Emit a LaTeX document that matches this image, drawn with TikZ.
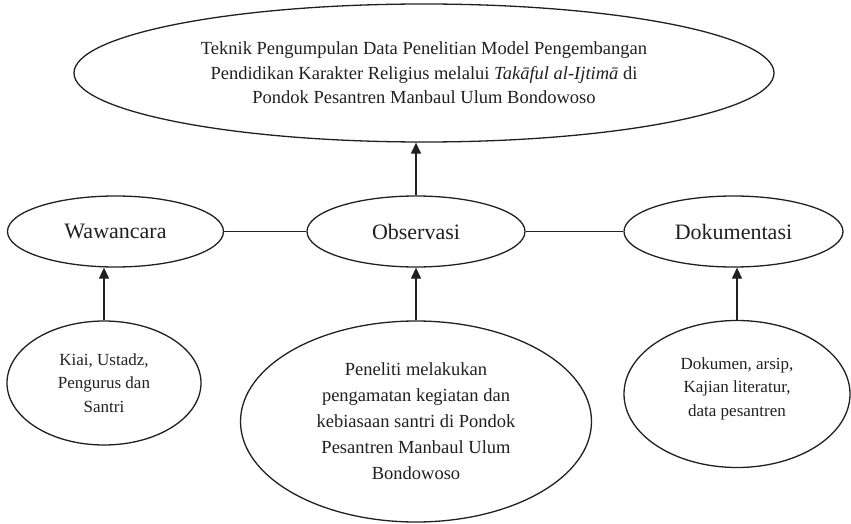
\documentclass[tikz,border=0pt]{standalone}
\usepackage{fontspec}
\setmainfont{Liberation Serif}
\usepackage{tikz}
\usetikzlibrary{arrows.meta,calc,positioning,shapes.geometric}
\usepackage{xcolor}
\definecolor{lineblack}{HTML}{231F20}

\begin{document}
\begin{tikzpicture}[x=1pt,y=1pt,
    oval/.style={ellipse,draw=lineblack,line width=1.3pt,inner sep=0pt,align=center,text=lineblack},
    big/.style={font=\fontsize{18.5}{24.5}\selectfont},
    mid/.style={font=\fontsize{22}{26}\selectfont},
    small/.style={font=\fontsize{17}{23.5}\selectfont},
    link/.style={draw=lineblack,line width=1.3pt},
    arr/.style={link,-{Triangle[length=11pt,width=10pt]}}]
  \useasboundingbox (0,0) rectangle (851,-524);
  % Top node
  \node[oval,big,minimum width=700,minimum height=138] (judul) at (424,-73)
    {Teknik Pengumpulan Data Penelitian Model Pengembangan\\
     Pendidikan Karakter Religius melalui \textit{Takāful al-Ijtimā} di\\
     Pondok Pesantren Manbaul Ulum Bondowoso};
  % Middle row
  \node[oval,mid,minimum width=216,minimum height=71] (wawancara) at (115.5,-231.5) {Wawancara};
  \node[oval,mid,minimum width=218,minimum height=71] (observasi) at (416,-231.5) {Observasi};
  \node[oval,mid,minimum width=219,minimum height=71] (dokumentasi) at (733.5,-231.5) {Dokumentasi};
  % Bottom row
  \node[oval,small,minimum width=194,minimum height=124] (sumber) at (104,-383)
    {Kiai, Ustadz,\\ Pengurus dan\\ Santri};
  \node[oval,font=\fontsize{18.5}{26}\selectfont,minimum width=351,minimum height=201]
    (pengamatan) at (416,-421.5)
    {Peneliti melakukan\\ pengamatan kegiatan dan\\ kebiasaan santri di Pondok\\
     Pesantren Manbaul Ulum\\ Bondowoso};
  \node[oval,small,minimum width=226,minimum height=147] (dokumen) at (737,-394)
    {Dokumen, arsip,\\ Kajian literatur,\\ data pesantren\\[-9pt]};
  % Links
  \draw[link] (wawancara.east) -- (observasi.west);
  \draw[link] (observasi.east) -- (dokumentasi.west);
  \draw[arr] (observasi.north) -- (observasi.north |- judul.south);
  \draw[arr] (sumber.north) -- (sumber.north |- wawancara.south);
  \draw[arr] (pengamatan.north) -- (observasi.south);
  \draw[arr] (dokumen.north) -- (dokumen.north |- dokumentasi.south);
\end{tikzpicture}
\end{document}
